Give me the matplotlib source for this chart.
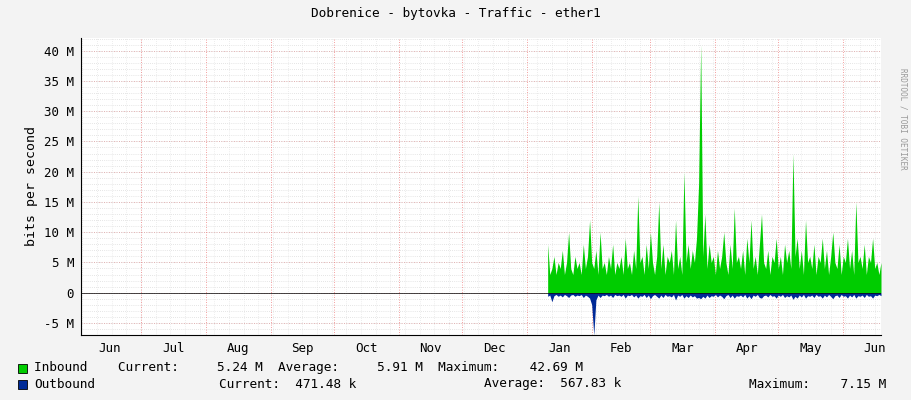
import matplotlib
matplotlib.use("Agg")
import matplotlib.pyplot as plt
import numpy as np

# days counted from 1 Jul
month_labels = ["Jun","Jul","Aug","Sep","Oct","Nov","Dec","Jan","Feb","Mar","Apr","May","Jun"]
month_starts = [-30,0,31,62,92,123,153,184,215,243,274,304,335]
data_start_day = 194
inbound = [8,3,4,6,3,5,4,7,3,5, 10,4,3,6,4,5,3,8,4,6, 12,5,4,7,3,10,4,5,3,6,
           4,8,3,5,4,6,3,9,4,5, 3,7,4,16,5,6,3,8,4,10, 5,3,6,15,4,8,3,6,5,7,
           3,12,4,6,3,20,5,8,4,7, 5,9,18,41,6,13,4,8,5,6, 3,7,4,6,10,5,3,8,4,14,
           5,6,4,7,3,9,5,12,4,6, 3,8,13,5,4,7,3,6,5,9, 4,6,3,8,5,7,4,23,6,9,
           4,7,3,12,5,6,4,8,3,6, 5,9,4,7,3,6,10,5,4,8, 3,6,5,9,4,7,3,15,5,6,
           4,8,3,6,5,9,4,5,3,5]
outbound = [-0.6,-0.4,-1.5,-0.5,-0.3,-0.6,-0.4,-0.7,-0.3,-0.5, -0.8,-0.4,-0.3,-0.6,-0.4,-0.5,-0.3,-0.8,-0.4,-0.6,
            -0.9,-2.0,-7.0,-1.2,-0.4,-0.8,-0.4,-0.5,-0.3,-0.6, -0.4,-0.8,-0.3,-0.5,-0.4,-0.6,-0.3,-0.9,-0.4,-0.5,
            -0.3,-0.7,-0.4,-0.9,-0.5,-0.6,-0.3,-0.8,-0.4,-1.0, -0.5,-0.3,-0.6,-0.9,-0.4,-0.8,-0.3,-0.6,-0.5,-0.7,
            -0.3,-1.2,-0.4,-0.6,-0.3,-0.9,-0.5,-0.8,-0.4,-0.7, -0.5,-0.9,-0.8,-1.0,-0.6,-0.9,-0.4,-0.8,-0.5,-0.6,
            -0.3,-0.7,-0.4,-0.6,-1.0,-0.5,-0.3,-0.8,-0.4,-0.9, -0.5,-0.6,-0.4,-0.7,-0.3,-0.9,-0.5,-1.0,-0.4,-0.6,
            -0.3,-0.8,-0.9,-0.5,-0.4,-0.7,-0.3,-0.6,-0.5,-0.9, -0.4,-0.6,-0.3,-0.8,-0.5,-0.7,-0.4,-1.1,-0.6,-0.9,
            -0.4,-0.7,-0.3,-0.9,-0.5,-0.6,-0.4,-0.8,-0.3,-0.6, -0.5,-0.9,-0.4,-0.7,-0.3,-0.6,-1.0,-0.5,-0.4,-0.8,
            -0.3,-0.6,-0.5,-0.9,-0.4,-0.7,-0.3,-0.9,-0.5,-0.6, -0.4,-0.8,-0.3,-0.6,-0.5,-0.9,-0.4,-0.5,-0.3,-0.5]
yticks = [-5,0,5,10,15,20,25,30,35,40]
ytick_labels = ["-5 M","0","5 M","10 M","15 M","20 M","25 M","30 M","35 M","40 M"]

W, H = 911, 400
fig = plt.figure(figsize=(W/100, H/100), dpi=100, facecolor="#F3F3F3")
ax = fig.add_axes([81/W, 1-335/H, 800/W, 297/H], facecolor="white")
x0, x1 = -28.6, 353
ax.set_xlim(x0, x1)
ax.set_ylim(-7, 42.1)

for v in np.arange(-7, 43, 1):
    ax.axhline(v, color="#CCCCCC", lw=0.5, ls=(0,(1,2)), zorder=0)
for v in yticks:
    ax.axhline(v, color="#E0A0A0", lw=0.6, ls=(0,(1,2)), zorder=0)
for d in np.arange(-28, 353, 7):
    ax.axvline(d, color="#DDDDDD", lw=0.5, ls=(0,(1,2)), zorder=0)
for d in month_starts[1:]:
    ax.axvline(d, color="#F08080", lw=0.6, ls=(0,(1,2)), zorder=0)

days = np.arange(data_start_day, data_start_day + len(inbound))
ax.fill_between(days, 0, inbound, color="#00CC00", lw=0, zorder=2)
ax.fill_between(days, 0, outbound, color="#002A97", lw=0, zorder=3)
ax.axhline(0, color="black", lw=0.5, zorder=4)

for s in ax.spines.values():
    s.set_visible(False)
ax.axhline(-7, color="black", lw=0.8, clip_on=False)
ax.axvline(x0, color="black", lw=0.8, clip_on=False)
ax.set_yticks(yticks)
ax.set_yticklabels(ytick_labels, family="DejaVu Sans Mono", fontsize=9)
mids = [(month_starts[i] + (month_starts[i+1] if i+1 < len(month_starts) else 365)) / 2 for i in range(len(month_starts))]
ax.set_xticks(mids)
ax.set_xticklabels(month_labels, family="DejaVu Sans Mono", fontsize=9)
ax.tick_params(length=0, pad=5)
ax.set_ylabel("bits per second", family="DejaVu Sans Mono", fontsize=9.5)

mono = dict(family="DejaVu Sans Mono", fontsize=9.2, color="black")
fig.text(0.5, 1-14/H, "Dobrenice - bytovka - Traffic - ether1", ha="center", va="center", **mono)
fig.text(903/W, 0.5+0.33, "RRDTOOL / TOBI OETIKER", rotation=270, ha="center", va="top",
         family="DejaVu Sans Mono", fontsize=5.5, color="#999999")
fig.patches.append(plt.Rectangle((18/W, 1-373/H), 9/W, 9/H, transform=fig.transFigure,
                                 facecolor="#00CC00", edgecolor="black", lw=0.6))
fig.patches.append(plt.Rectangle((18/W, 1-389/H), 9/W, 9/H, transform=fig.transFigure,
                                 facecolor="#002A97", edgecolor="black", lw=0.6))
fig.text(34/W, 1-368/H, "Inbound    Current:     5.24 M  Average:     5.91 M  Maximum:    42.69 M", va="center", **mono)
fig.text(34/W, 1-384/H, "Outbound", va="center", **mono)
fig.text(219/W, 1-384/H, "Current:  471.48 k", va="center", **mono)
fig.text(484/W, 1-384/H, "Average:  567.83 k", va="center", **mono)
fig.text(749/W, 1-384/H, "Maximum:    7.15 M", va="center", **mono)

fig.savefig("out.png", dpi=100, facecolor=fig.get_facecolor())
